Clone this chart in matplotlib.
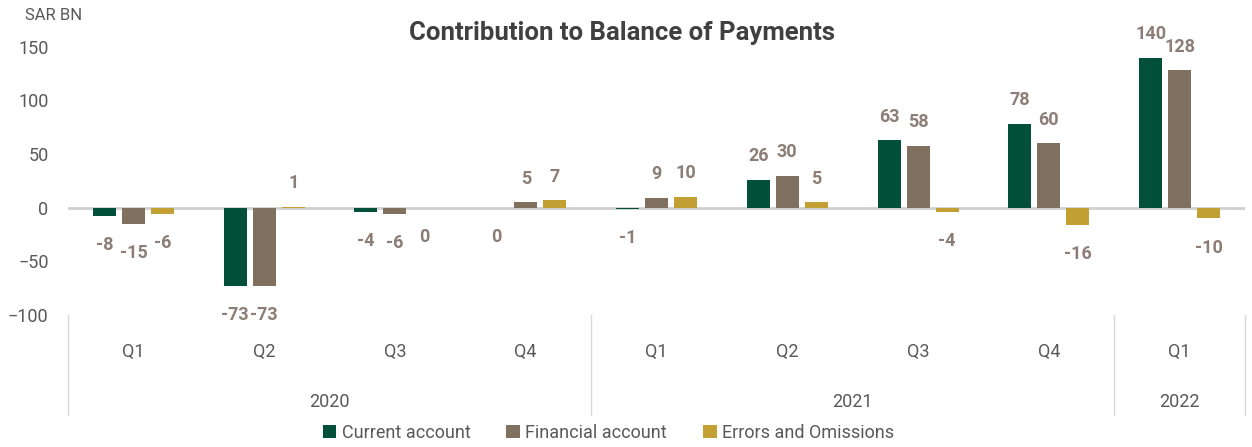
import numpy as np
import matplotlib.pyplot as plt
from matplotlib.patches import Patch
from matplotlib.lines import Line2D
import matplotlib.transforms as mtransforms

plt.rcParams['font.family'] = ['Roboto', 'DejaVu Sans']

quarters = ['Q1', 'Q2', 'Q3', 'Q4', 'Q1', 'Q2', 'Q3', 'Q4', 'Q1']
years = ['2020', '2021', '2022']
year_spans = [(0, 4), (4, 8), (8, 9)]

current_account = [-8, -73, -4, 0, -1, 26, 63, 78, 140]
financial_account = [-15, -73, -6, 5, 9, 30, 58, 60, 128]
errors_omissions = [-6, 1, 0, 7, 10, 5, -4, -16, -10]

series = [
    ('Current account', current_account, '#02503A'),
    ('Financial account', financial_account, '#7F7060'),
    ('Errors and Omissions', errors_omissions, '#C2A033'),
]

label_color = '#8C7D76'
text_color = '#595959'

fig = plt.figure(figsize=(12.52, 4.47), dpi=100)
ax = fig.add_axes([68 / 1252, 1 - 315 / 447, (1245 - 68) / 1252, (315 - 20) / 447])

x = np.arange(len(quarters)) + 0.5
width = 0.176
step = 0.222

for i, (name, vals, color) in enumerate(series):
    xs = x + (i - 1) * step
    ax.bar(xs, vals, width=width, color=color, linewidth=0, zorder=3)
    for xi, v in zip(xs, vals):
        dy = 17 if v > 0 else -21
        ax.annotate(f'{v}', (xi, v), xytext=(0, dy), textcoords='offset points',
                    ha='center', va='center', fontsize=13, fontweight='bold',
                    color=label_color)

ax.axhline(0, color='#D0D0D0', linewidth=2, zorder=2)
ax.set_xlim(0, len(quarters))
ax.set_ylim(-100, 175)
ax.set_yticks([-100, -50, 0, 50, 100, 150])
ax.tick_params(axis='y', length=0, pad=14, labelsize=13, labelcolor=text_color)
ax.set_xticks([])
for s in ax.spines.values():
    s.set_visible(False)

# two-level category axis below the plot
trans = mtransforms.blended_transform_factory(ax.transData, ax.transAxes)
h = ax.get_position().height * 447
for xi, q in zip(x, quarters):
    ax.text(xi, -37 / h, q, transform=trans, ha='center', va='center',
            fontsize=13, color=text_color)
for yr, (a, b) in zip(years, year_spans):
    ax.text((a + b) / 2, -87 / h, yr, transform=trans, ha='center', va='center',
            fontsize=13, color=text_color)
for xb in [0, 4, 8, 9]:
    ax.add_line(Line2D([xb, xb], [0, -100 / h], transform=trans, color='#DADADA',
                       linewidth=1, clip_on=False))

fig.text(25 / 1252, 1 - 15 / 447, 'SAR BN', ha='left', va='center',
         fontsize=12, color=text_color)
fig.text(0.497, 1 - 33 / 447, 'Contribution to Balance of Payments', ha='center',
         va='center', fontsize=18.5, fontweight='bold', color='#404040')

handles = [Patch(facecolor=c, label=n) for n, _, c in series]
fig.legend(handles=handles, loc='center', bbox_to_anchor=(0.486, 1 - 433 / 447),
           ncol=3, frameon=False, fontsize=13, handlelength=0.75, handleheight=0.75,
           handletextpad=0.3, columnspacing=2.0, labelcolor=text_color)

fig.savefig('out.png', dpi=100)
